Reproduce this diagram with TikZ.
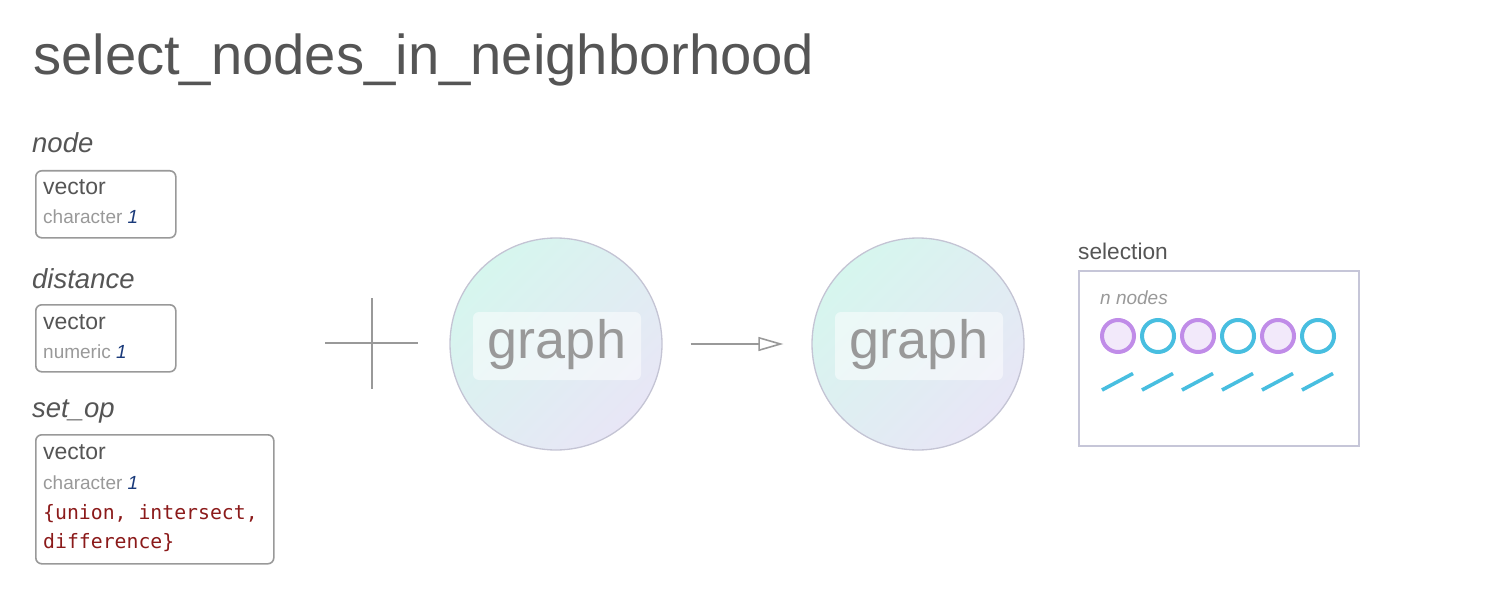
\documentclass[tikz,border=0pt]{standalone}
\usepackage{fontspec}
\setmainfont{Liberation Sans}
\newfontfamily\monof{DejaVu Sans Mono}
\usetikzlibrary{arrows.meta}
\definecolor{titlegray}{HTML}{555555}
\definecolor{boxgray}{HTML}{999999}
\definecolor{subgray}{HTML}{999999}
\definecolor{numblue}{HTML}{1A3A7A}
\definecolor{codered}{HTML}{8B1A1A}
\definecolor{mint}{HTML}{D6F6EE}
\definecolor{lav}{HTML}{E8E6F6}
\definecolor{circgray}{HTML}{C4C4D4}
\definecolor{graphgray}{HTML}{999999}
\definecolor{selgray}{HTML}{C6C6D8}
\definecolor{purp}{HTML}{C08CE8}
\definecolor{purpfill}{HTML}{F2E9FA}
\definecolor{cyanc}{HTML}{48BEE0}
\begin{document}
\begin{tikzpicture}[x=1bp,y=-1bp,
  title/.style={anchor=base west, inner sep=0, text=titlegray, font=\fontsize{56.2bp}{60bp}\selectfont},
  lbl/.style={anchor=base west, inner sep=0, text=titlegray, font=\fontsize{27.5bp}{30bp}\selectfont\itshape},
  tbox/.style={draw=boxgray, line width=1.6bp, rounded corners=6bp, anchor=north west, inner sep=0},
  vtxt/.style={anchor=base west, inner sep=0, text=titlegray, font=\fontsize{23bp}{26bp}\selectfont},
  stxt/.style={anchor=base west, inner sep=0, text=subgray, font=\fontsize{19bp}{22bp}\selectfont},
  ctxt/.style={anchor=base west, inner sep=0, text=codered, font=\fontsize{19.8bp}{24bp}\monof},
  gcirc/.style={circle, minimum size=212bp, inner sep=0, draw=circgray, line width=1.3bp, top color=mint, bottom color=lav, shading angle=45},
  glabel/.style={rounded corners=6bp, fill=white, fill opacity=0.5, text opacity=1, minimum width=168bp, minimum height=68bp, inner sep=0, text height=30bp, text depth=6bp, text=graphgray, font=\fontsize{54bp}{58bp}\selectfont},
  plusline/.style={draw=boxgray, line width=1.4bp},
  flow/.style={draw=boxgray, line width=1.6bp, -{Triangle[open, length=25bp, width=14bp]}},
  selbox/.style={draw=selgray, line width=2bp, anchor=north west, inner sep=0, minimum width=280bp, minimum height=175bp},
  pnode/.style={circle, draw=purp, fill=purpfill, line width=4bp, minimum size=32bp, inner sep=0},
  cnode/.style={circle, draw=cyanc, fill=white, line width=4bp, minimum size=32bp, inner sep=0},
  slash/.style={draw=cyanc, line width=3.6bp}
]
\useasboundingbox (0,0) rectangle (1510,600);

\node[title] (ttl) at (33,75) {select\_nodes\_in\_neighborhood};

% node
\node[lbl] (lnode) at (32,153) {node};
\node[tbox, minimum width=140bp, minimum height=67bp] (bnode) at (35,170) {};
\node[vtxt] (vnode) at (43,195) {vector};
\node[stxt] (snode) at (43,224) {character {\color{numblue}\itshape 1}};

% distance
\node[lbl] (ldist) at (32,288) {distance};
\node[tbox, minimum width=140bp, minimum height=67bp] (bdist) at (35,304) {};
\node[vtxt] (vdist) at (43,329) {vector};
\node[stxt] (sdist) at (43,358) {numeric {\color{numblue}\itshape 1}};

% set_op
\node[lbl] (lset) at (32,417) {set\_op};
\node[tbox, minimum width=238bp, minimum height=129bp] (bset) at (35,434) {};
\node[vtxt] (vset) at (43,459) {vector};
\node[stxt] (sset) at (43,489) {character {\color{numblue}\itshape 1}};
\node[ctxt] (c1) at (43,519) {\{union, intersect,};
\node[ctxt] (c2) at (43,548) {difference\}};

% plus
\coordinate (pl) at (325,343);
\coordinate (pr) at (418,343);
\coordinate (pt) at (372,298);
\coordinate (pb) at (372,389);
\draw[plusline] (pl) -- (pr);
\draw[plusline] (pt) -- (pb);

% graphs
\node[gcirc] (g1) at (556,344) {};
\node[glabel] (t1) at (557,346) {graph};
\node[gcirc] (g2) at (918,344) {};
\node[glabel] (t2) at (919,346) {graph};
\draw[flow, shorten <=28bp, shorten >=28bp] (g1.east) -- (g2.west);

% selection
\node[vtxt, font=\fontsize{22.7bp}{26bp}\selectfont] (lsel) at (1078,259) {selection};
\node[selbox] (sel) at (1078,270) {};
\node[stxt, font=\fontsize{19bp}{22bp}\selectfont\itshape] (nn) at (1100,304) {n nodes};
\foreach \i in {0,2,4} {
  \node[pnode] (n\i) at (1118+40*\i,336) {};
}
\foreach \i in {1,3,5} {
  \node[cnode] (n\i) at (1118+40*\i,336) {};
}
\foreach \i in {0,...,5} {
  \draw[slash] (1102+40*\i,390) -- ++(31,-16.5);
}
\end{tikzpicture}
\end{document}
